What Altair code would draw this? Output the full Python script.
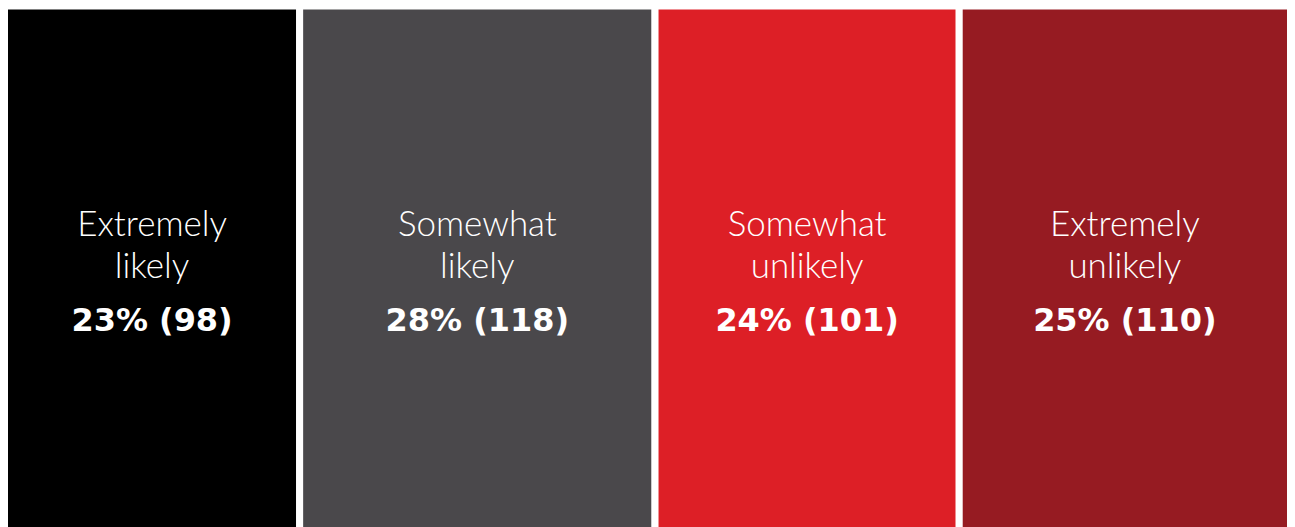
import altair as alt
import pandas as pd

categories = ["Extremely likely", "Somewhat likely", "Somewhat unlikely", "Extremely unlikely"]
line1 = ["Extremely", "Somewhat", "Somewhat", "Extremely"]
line2 = ["likely", "likely", "unlikely", "unlikely"]
counts = [98, 118, 101, 110]
percents = ["23%", "28%", "24%", "25%"]
colors = ["#000000", "#4a484b", "#dd1f26", "#961b22"]

df = pd.DataFrame({
    "order": list(range(len(categories))),
    "category": categories,
    "l1": line1,
    "l2": line2,
    "count": counts,
    "label": [f"{p} ({c})" for p, c in zip(percents, counts)],
})

total = sum(counts)

base = alt.Chart(df).transform_window(
    cum="sum(count)", sort=[alt.SortField("order")]
).transform_calculate(
    start="datum.cum - datum.count",
    mid="datum.cum - datum.count / 2",
)

# range extends half a gap beyond the plot so outer white strokes fall outside
xscale = alt.Scale(domain=[0, total], nice=False, zero=True, range=[-3.5, 1284.5])

bars = base.mark_bar(stroke="white", strokeWidth=7, strokeJoin="miter").encode(
    x=alt.X("start:Q", scale=xscale, axis=None),
    x2="cum:Q",
    y=alt.value(-2.5),
    y2=alt.value(560),
    color=alt.Color("category:N", scale=alt.Scale(domain=categories, range=colors), legend=None),
)

t1 = base.mark_text(
    color="white", font="Lato", fontWeight=300, fontSize=35, align="center", baseline="alphabetic"
).encode(x=alt.X("mid:Q", scale=xscale), y=alt.value(228), text="l1:N")

t2 = base.mark_text(
    color="white", font="Lato", fontWeight=300, fontSize=35, align="center", baseline="alphabetic"
).encode(x=alt.X("mid:Q", scale=xscale), y=alt.value(270), text="l2:N")

t3 = base.mark_text(
    color="white", font="DejaVu Sans", fontWeight="bold", fontSize=32, align="center", baseline="alphabetic"
).encode(x=alt.X("mid:Q", scale=xscale), y=alt.value(323), text="label:N")

chart = alt.layer(bars, t1, t2, t3).properties(
    width=1281,
    height=525,
    padding=0,
    autosize=alt.AutoSizeParams(type="none"),
    background="white",
).configure_view(stroke=None)

chart.save("out.html", embed_options={"renderer": "svg", "actions": False})
